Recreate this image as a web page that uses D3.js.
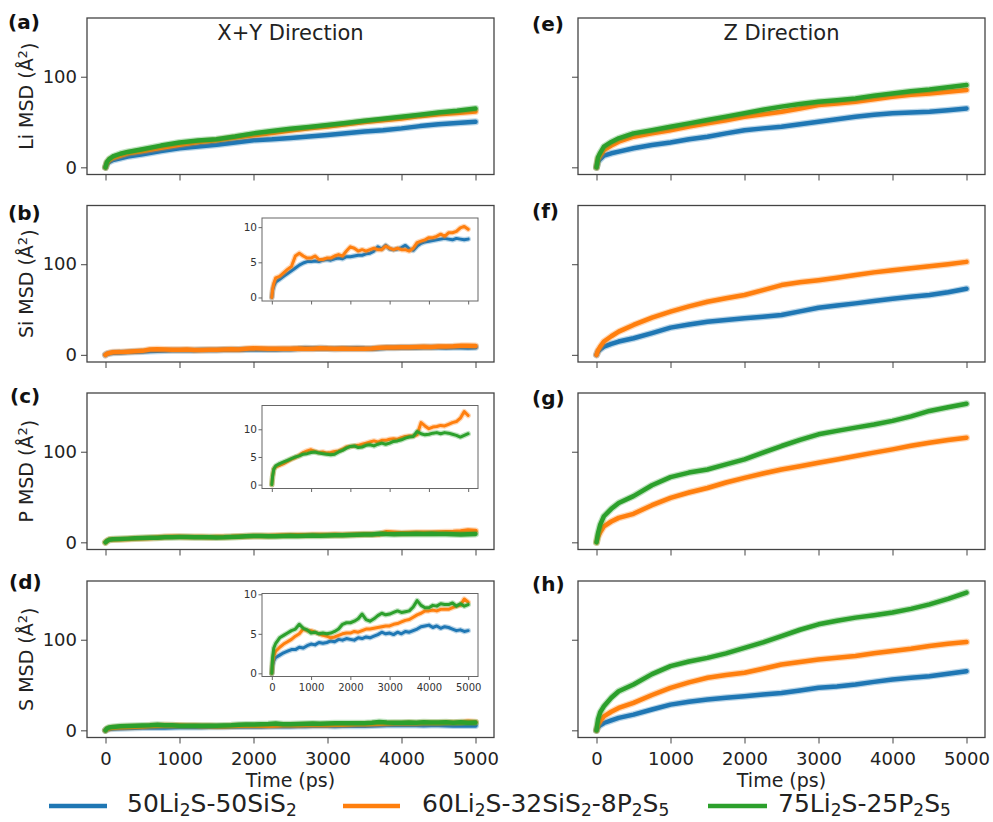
<!DOCTYPE html>
<html>
<head>
<meta charset="utf-8">
<script src="https://cdn.jsdelivr.net/npm/d3@7"></script>
<style>
  body { margin: 0; background: #fff; }
  svg { font-family: "DejaVu Sans", sans-serif; }
</style>
</head>
<body>
<svg id="chart" width="993" height="822"></svg>
<script>
// --- data ---
const seriesNames = ["50Li_2S-50SiS_2", "60Li_2S-32SiS_2-8P_2S_5", "75Li_2S-25P_2S_5"];
const seriesColors = ["#1f77b4", "#ff7f0e", "#2ca02c"];
const xTicks = [0, 1000, 2000, 3000, 4000, 5000];
const yTicks = [0, 100];
const insetYTicks = [0, 5, 10];

// coarse time grid (ps) for the large curves
const timeCoarse = [0, 20, 50, 100, 200, 300, 500, 750, 1000, 1250, 1500, 1750, 2000, 2250, 2500,
  2750, 3000, 3250, 3500, 3750, 4000, 4250, 4500, 4750, 5000];
// fine time grid (ps) for the small X+Y curves shown in the insets
const timeFine = [0, 20, 50, 100, 200, 300, 400, 500, 600, 700, 800, 900, 1000, 1100, 1200, 1300,
  1400, 1500, 1600, 1700, 1800, 1900, 2000, 2100, 2200, 2300, 2400, 2500, 2600, 2700, 2800, 2900,
  3000, 3100, 3200, 3300, 3400, 3500, 3600, 3700, 3800, 3900, 4000, 4100, 4200, 4300, 4400, 4500,
  4600, 4700, 4800, 4900, 5000];

// (a) Li, X+Y
const liXY_blue   = [0, 4, 6, 8, 10, 12, 14.5, 18, 21, 23, 25, 27.5, 30, 31, 32.5, 34, 35.7, 37.5, 39.5, 41, 43, 45.5, 47.5, 49, 50.3];
const liXY_orange = [0, 5, 8, 10.5, 13, 15.5, 18, 21.5, 25, 28, 30, 33, 35.5, 38, 40.5, 43, 45, 47.5, 50, 52, 54, 56.5, 58.5, 60, 61.5];
const liXY_green  = [0, 6, 9, 12, 15, 17, 20, 24, 27.5, 29.5, 31, 34, 37.5, 40, 42.5, 44.5, 46.7, 49, 51.5, 53.5, 55.8, 58, 60.5, 62.5, 65];

// (b) Si, X+Y
const siXY_blue = [0, 1.0, 1.6, 2.2,
  2.6, 3.0, 3.4, 3.8, 4.2, 4.6, 4.9, 5.1, 5.1, 5.2,
  5.1, 5.3, 5.4, 5.3, 5.5, 5.6, 5.5, 5.8, 5.8, 5.9,
  6.0, 6.0, 6.2, 6.3, 6.6, 7.2, 6.9, 7.4, 6.9, 6.8,
  6.9, 7.1, 7.4, 6.9, 6.7, 7.3, 7.7, 7.9, 8.0, 8.1,
  8.2, 8.3, 8.4, 8.3, 8.2, 8.4, 8.3, 8.2, 8.3];
const siXY_orange = [0, 1.2, 2.0, 2.8,
  3.0, 3.5, 4.0, 4.4, 5.9, 6.3, 5.9, 5.6, 5.6, 5.9,
  5.4, 5.4, 5.6, 5.6, 5.9, 6.1, 5.9, 6.6, 7.2, 7.0,
  6.6, 6.8, 6.6, 6.8, 7.0, 6.8, 6.8, 7.3, 7.0, 6.8,
  7.0, 6.8, 6.8, 6.6, 7.0, 7.8, 8.0, 8.2, 8.5, 8.5,
  8.7, 9.0, 8.7, 9.2, 9.2, 9.4, 9.9, 10.1, 9.7];

// (c) P, X+Y
const pXY_orange = [0, 1.5, 2.8, 3.2,
  3.5, 3.8, 4.2, 4.6, 4.9, 5.3, 5.8, 6.1, 6.3, 6.0,
  5.8, 5.9, 5.7, 5.8, 6.0, 6.1, 6.4, 6.8, 6.9, 7.0,
  7.1, 7.3, 7.5, 7.7, 7.9, 7.7, 8.0, 8.0, 8.2, 8.3,
  8.2, 8.5, 8.7, 8.8, 8.8, 9.0, 11.2, 10.6, 10.1, 10.4,
  10.5, 10.7, 10.6, 10.9, 11.2, 11.4, 12.0, 13.2, 12.5];
const pXY_green = [0, 1.5, 2.8, 3.4,
  3.8, 4.1, 4.4, 4.7, 5.0, 5.2, 5.5, 5.6, 5.8, 5.9,
  5.7, 5.6, 5.5, 5.4, 5.5, 5.9, 6.2, 6.6, 6.9, 7.0,
  6.7, 6.8, 7.1, 7.2, 7.0, 7.3, 7.5, 7.3, 7.5, 7.8,
  7.9, 8.1, 8.4, 8.6, 8.7, 9.6, 9.2, 9.0, 9.1, 9.3,
  9.4, 9.2, 9.4, 9.3, 9.1, 8.9, 8.6, 8.9, 9.2];

// (d) S, X+Y
const sXY_blue = [0, 1.0, 1.6, 2.0,
  2.3, 2.6, 2.8, 3.0, 3.0, 3.3, 3.2, 3.5, 3.7, 3.6,
  3.9, 3.8, 3.9, 4.1, 4.0, 4.3, 4.2, 4.4, 4.3, 4.2,
  4.5, 4.4, 4.6, 4.5, 4.7, 4.9, 5.2, 5.0, 5.1, 4.9,
  5.2, 5.0, 5.3, 5.2, 5.4, 5.6, 5.9, 6.0, 6.1, 5.8,
  6.0, 5.7, 5.9, 5.8, 5.6, 5.4, 5.5, 5.3, 5.4];
const sXY_orange = [0, 1.4, 2.2, 2.8,
  3.3, 3.7, 4.0, 4.3, 4.7, 5.0, 5.6, 5.4, 5.4, 5.2,
  5.0, 4.8, 4.7, 4.5, 4.6, 4.8, 5.0, 5.1, 5.1, 5.3,
  5.2, 5.4, 5.6, 5.6, 5.7, 5.8, 5.9, 6.0, 6.0, 6.2,
  6.3, 6.5, 6.7, 6.8, 7.1, 7.4, 7.6, 7.9, 7.9, 8.0,
  7.9, 8.1, 8.1, 8.1, 8.3, 8.5, 8.6, 9.4, 9.0];
const sXY_green = [0, 2.0, 3.2, 3.8,
  4.5, 4.8, 5.1, 5.4, 5.6, 6.2, 5.7, 5.5, 5.1, 5.2,
  5.0, 5.1, 5.0, 5.1, 5.3, 5.6, 6.2, 6.4, 6.4, 6.6,
  6.9, 7.5, 6.8, 6.6, 6.9, 7.3, 7.6, 7.4, 7.5, 7.7,
  7.9, 7.7, 7.8, 7.9, 8.4, 9.2, 8.6, 8.3, 8.3, 8.6,
  8.5, 8.8, 8.7, 8.7, 8.9, 8.5, 8.8, 8.5, 8.7];

// (e) Li, Z
const liZ_blue   = [0, 6, 9, 13, 15.5, 17.3, 21, 24.6, 27.5, 31, 33.8, 37.5, 41, 43, 44.8, 47.5, 50.4, 53, 55.9, 58, 59.6, 60.5, 61.4, 63, 65];
const liZ_orange = [0, 9, 13, 19, 24, 28.3, 33.8, 37.5, 41, 45, 48.5, 52, 55.9, 58.5, 61.4, 65, 68.8, 70.5, 72.4, 75, 78, 80, 81.6, 83.5, 85.3];
const liZ_green  = [0, 11, 16, 22.8, 28, 32, 37.5, 41, 44.8, 48.5, 52.2, 56, 59.6, 63.5, 67, 70, 72.4, 74, 76, 79, 81.6, 84, 86, 88.5, 90.8];

// (f) Si, Z
const siZ_blue   = [0, 3.5, 6, 9, 12, 14.7, 18.3, 24, 30, 33.5, 36.5, 38.5, 40.3, 42, 44, 48, 52, 54.5, 56.8, 59.5, 62, 64, 66, 69, 73];
const siZ_orange = [0, 5, 9, 14.7, 20.5, 25.6, 33, 41, 47.6, 53.5, 58.6, 62.5, 66, 71.5, 77, 80, 82.4, 85, 88, 91, 93.4, 95.5, 97.8, 100, 102.6];

// (g) P, Z
const pZ_orange = [0, 6, 11, 17.7, 23, 27, 31.5, 41, 49, 55, 60, 66, 71.2, 76, 80.4, 84, 87.8, 91.5, 95.2, 99, 102.6, 106.5, 110, 113, 115.5];
const pZ_green  = [0, 10, 19.6, 28.8, 37, 43.5, 51, 63, 72, 77, 80.4, 86, 91.5, 99, 106.3, 113, 119.2, 123, 126.6, 130, 134, 139, 145, 149, 153];

// (h) S, Z
const sZ_blue   = [0, 3.5, 5.5, 8.1, 11, 13.7, 17.3, 23, 28.4, 31.5, 34, 36, 37.6, 39.5, 41.3, 44, 46.9, 48.5, 50.6, 53.5, 56, 58, 59.8, 62.5, 65.3];
const sZ_orange = [0, 6, 10, 15.5, 20.5, 24.7, 30.3, 39, 46.9, 53, 58, 61, 63.5, 68, 72.7, 75.5, 78.2, 80, 82, 85, 87.5, 90, 93, 95.5, 97.4];
const sZ_green  = [0, 12, 20, 26.6, 36, 43.2, 50.6, 62, 70.8, 76, 80, 85, 91, 97, 104, 111, 117, 121, 124.4, 127, 130, 134, 139, 145, 152];

// --- layout ---
const colX = [87, 578];
const rowY = [18, 205.5, 393, 581];
const panelW = 407, panelH = 156.5;
const inset = { x: 175, y: 12.5, w: 216, h: 83 };

const panels = [
  { label: "(a)", col: 0, row: 0, labelPos: [8, 29], element: "Li", time: timeCoarse,
    series: [[0, liXY_blue], [1, liXY_orange], [2, liXY_green]] },
  { label: "(b)", col: 0, row: 1, labelPos: [8, 220], element: "Si", time: timeFine,
    series: [[0, siXY_blue], [1, siXY_orange]], insetDomain: [-0.5, 11.3] },
  { label: "(c)", col: 0, row: 2, labelPos: [10, 403], element: "P", time: timeFine,
    series: [[1, pXY_orange], [2, pXY_green]], insetDomain: [-0.7, 14.3] },
  { label: "(d)", col: 0, row: 3, labelPos: [9, 589], element: "S", time: timeFine,
    series: [[0, sXY_blue], [1, sXY_orange], [2, sXY_green]], insetDomain: [-0.4, 10.1], insetXLabels: true },
  { label: "(e)", col: 1, row: 0, labelPos: [532, 31], time: timeCoarse,
    series: [[0, liZ_blue], [1, liZ_orange], [2, liZ_green]] },
  { label: "(f)", col: 1, row: 1, labelPos: [532, 218], time: timeCoarse,
    series: [[0, siZ_blue], [1, siZ_orange]] },
  { label: "(g)", col: 1, row: 2, labelPos: [532, 405], time: timeCoarse,
    series: [[1, pZ_orange], [2, pZ_green]] },
  { label: "(h)", col: 1, row: 3, labelPos: [532, 591], time: timeCoarse,
    series: [[0, sZ_blue], [1, sZ_orange], [2, sZ_green]] }
];

const svg = d3.select("#chart");
const x = d3.scaleLinear().domain([-250, 5250]).range([0, panelW]);
const y = d3.scaleLinear().domain([-7.9, 164.8]).range([panelH, 0]);
const fmt = d3.format("d");

function styleAxis(g, fontSize, color, showLabels) {
  g.select(".domain").remove();
  g.selectAll(".tick line").attr("stroke", color);
  if (!showLabels) {
    g.selectAll(".tick text").remove();
    return;
  }
  g.selectAll(".tick text")
    .attr("fill", "#222")
    .style("font-size", fontSize + "px")
    .style("font-family", "DejaVu Sans, sans-serif");
}

function drawSeries(g, time, series, xs, ys, width) {
  const line = d3.line().x((d) => xs(d[0])).y((d) => ys(d[1]));
  series.forEach(([ci, values]) => {
    const pts = d3.zip(time, values);
    // soft halo to mimic the noisy band of the raw trajectory
    g.append("path").datum(pts).attr("d", line)
      .attr("fill", "none").attr("stroke", seriesColors[ci])
      .attr("stroke-width", width + 2.5).attr("stroke-opacity", 0.3)
      .attr("stroke-linejoin", "round").attr("stroke-linecap", "round");
    g.append("path").datum(pts).attr("d", line)
      .attr("fill", "none").attr("stroke", seriesColors[ci])
      .attr("stroke-width", width)
      .attr("stroke-linejoin", "round").attr("stroke-linecap", "round");
  });
}

panels.forEach((p) => {
  const g = svg.append("g").attr("transform", `translate(${colX[p.col]},${rowY[p.row]})`);

  drawSeries(g, p.time, p.series, x, y, 4.5);

  // frame
  g.append("rect").attr("width", panelW).attr("height", panelH)
    .attr("fill", "none").attr("stroke", "#444").attr("stroke-width", 1.3);

  // x axis
  const xAxis = d3.axisBottom(x).tickValues(xTicks).tickFormat(fmt).tickSize(6).tickSizeOuter(0);
  const gx = g.append("g").attr("transform", `translate(0,${panelH})`).call(xAxis);
  styleAxis(gx, 18, "#444", p.row === 3);
  gx.selectAll(".tick text").attr("dy", null).attr("y", 27.5);

  // y axis
  const yAxis = d3.axisLeft(y).tickValues(yTicks).tickSize(6).tickSizeOuter(0).tickPadding(4);
  const gy = g.append("g").call(yAxis);
  styleAxis(gy, 18, "#444", p.col === 0);

  // y label
  if (p.col === 0) {
    const t = svg.append("text")
      .attr("transform", `translate(33,${rowY[p.row] + panelH / 2}) rotate(-90)`)
      .attr("text-anchor", "middle").attr("fill", "#222")
      .style("font-size", "19px");
    t.append("tspan").text(`${p.element} MSD (Å`);
    t.append("tspan").attr("dy", "-0.45em").style("font-size", "13px").text("2");
    t.append("tspan").attr("dy", "0.45em").text(")");
  }

  // panel label
  svg.append("text").attr("x", p.labelPos[0]).attr("y", p.labelPos[1])
    .attr("fill", "#111").style("font-size", "20px").style("font-weight", "bold")
    .text(p.label);

  // inset
  if (p.insetDomain) {
    const ix = d3.scaleLinear().domain([-250, 5250]).range([0, inset.w]);
    const iy = d3.scaleLinear().domain(p.insetDomain).range([inset.h, 0]);
    const ig = g.append("g").attr("transform", `translate(${inset.x},${inset.y})`);
    ig.append("rect").attr("width", inset.w).attr("height", inset.h).attr("fill", "#fff");
    drawSeries(ig, p.time, p.series, ix, iy, 3);
    ig.append("rect").attr("width", inset.w).attr("height", inset.h)
      .attr("fill", "none").attr("stroke", "#666").attr("stroke-width", 1);
    const ixAxis = d3.axisBottom(ix).tickValues(xTicks).tickFormat(fmt)
      .tickSize(3.5).tickSizeOuter(0).tickPadding(2);
    const igx = ig.append("g").attr("transform", `translate(0,${inset.h})`).call(ixAxis);
    styleAxis(igx, 10, "#666", !!p.insetXLabels);
    igx.selectAll(".tick text").attr("dy", null).attr("y", 14).attr("fill", "#333");
    const iyAxis = d3.axisLeft(iy).tickValues(insetYTicks).tickSize(3.5).tickSizeOuter(0).tickPadding(1.5);
    const igy = ig.append("g").call(iyAxis);
    styleAxis(igy, 10.5, "#666", true);
    igy.selectAll(".tick text").attr("fill", "#333");
  }
});

// column titles
svg.append("text").attr("x", colX[0] + panelW / 2).attr("y", 39.5)
  .attr("text-anchor", "middle").attr("fill", "#222").style("font-size", "21px")
  .text("X+Y Direction");
svg.append("text").attr("x", colX[1] + panelW / 2).attr("y", 39.5)
  .attr("text-anchor", "middle").attr("fill", "#222").style("font-size", "21px")
  .text("Z Direction");

// x labels
colX.forEach((cx) => {
  svg.append("text").attr("x", cx + x(2500)).attr("y", 787)
    .attr("text-anchor", "middle").attr("fill", "#222").style("font-size", "19px")
    .text("Time (ps)");
});

// legend
const legendPos = [[49, 107, 127], [343, 400, 422], [708, 767, 778]];
seriesNames.forEach((name, i) => {
  const [x1, x2, tx] = legendPos[i];
  svg.append("line").attr("x1", x1).attr("x2", x2).attr("y1", 806).attr("y2", 806)
    .attr("stroke", seriesColors[i]).attr("stroke-width", 4.5);
  const t = svg.append("text").attr("x", tx).attr("y", 812)
    .attr("fill", "#222").style("font-size", "25px");
  let shift = 0;
  name.split(/(_\d)/).filter((s) => s.length).forEach((part) => {
    if (part[0] === "_") {
      t.append("tspan").attr("dy", 4 - shift).style("font-size", "17px").text(part.slice(1));
      shift = 4;
    } else {
      t.append("tspan").attr("dy", -shift).text(part);
      shift = 0;
    }
  });
});
</script>
</body>
</html>
